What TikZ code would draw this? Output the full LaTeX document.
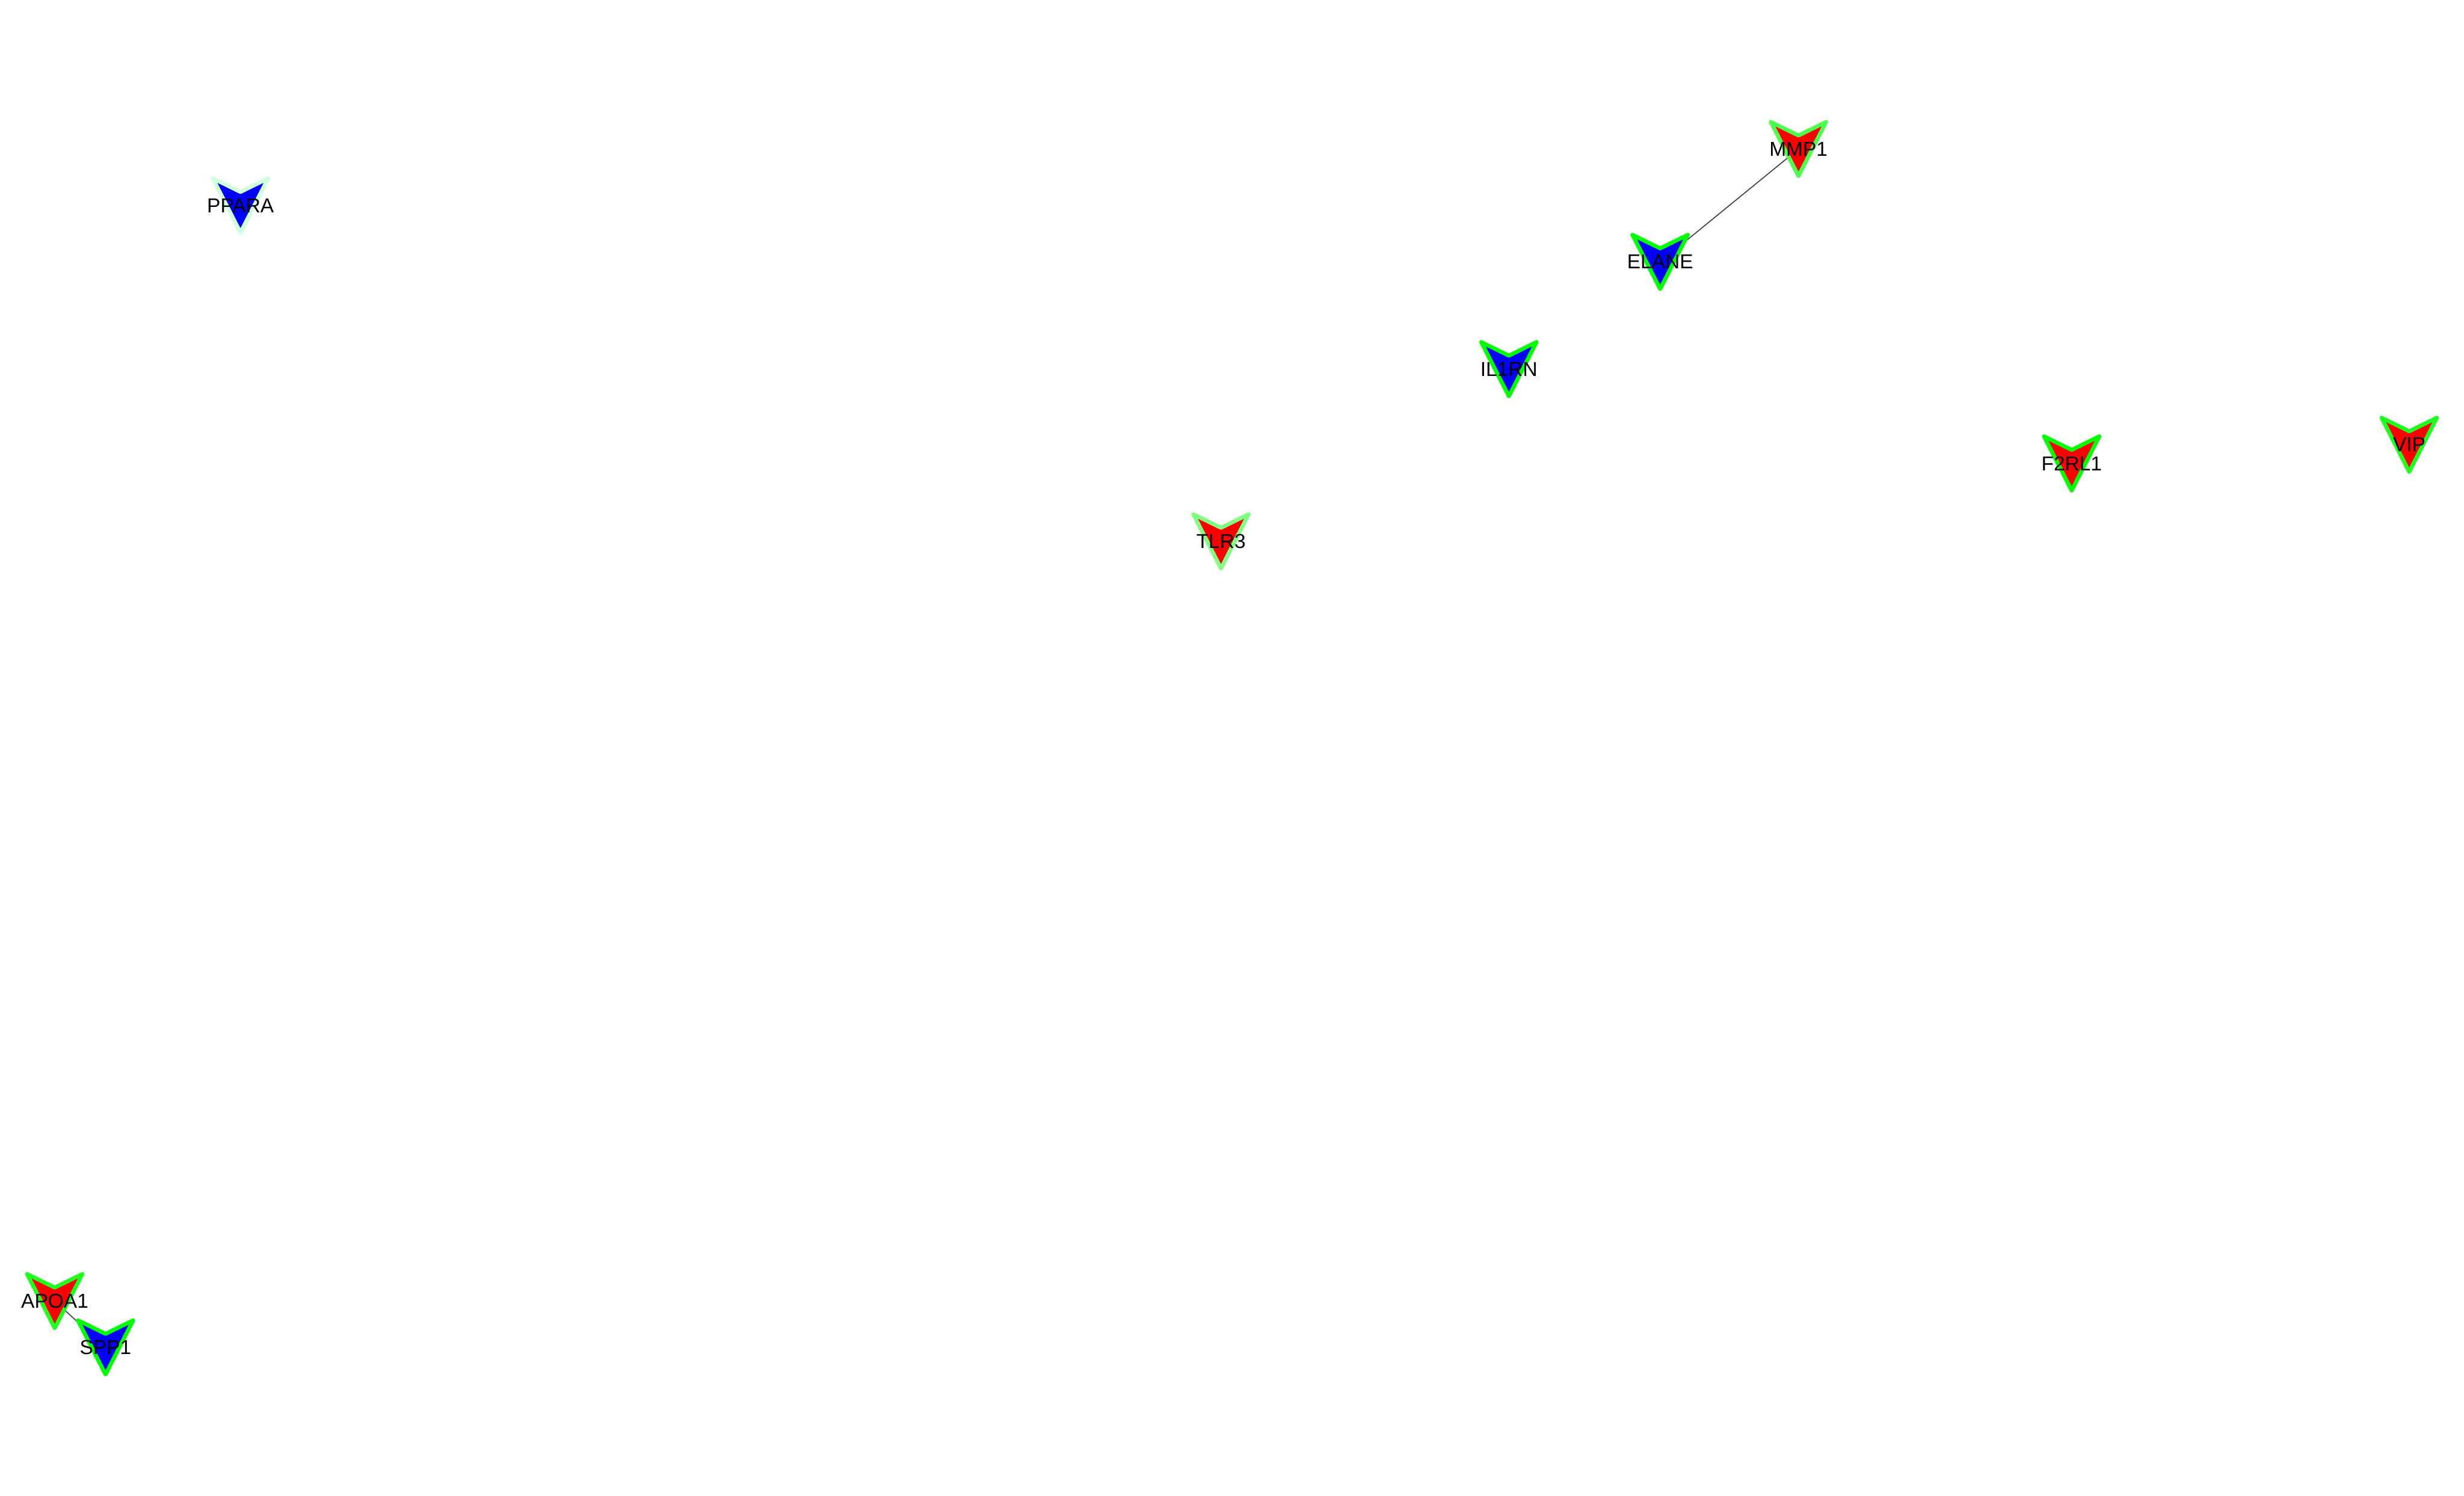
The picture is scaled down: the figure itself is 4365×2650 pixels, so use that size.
\documentclass[tikz,border=0pt]{standalone}
\usepackage{fontspec}
\setmainfont{Liberation Sans}
\usepackage{tikz}
\usetikzlibrary{backgrounds}
\definecolor{upred}{RGB}{255,0,0}
\definecolor{downblue}{RGB}{0,0,255}
\definecolor{rimfull}{RGB}{0,255,0}
\definecolor{rimsoft}{RGB}{30,255,30}
\definecolor{rimmid}{RGB}{77,255,77}
\definecolor{rimlight}{RGB}{128,255,128}
\definecolor{rimpale}{RGB}{208,255,222}
\definecolor{edgegray}{RGB}{64,64,64}
% chevron marker, then the gene name on top
\newcommand{\gene}[5]{%
  \filldraw[chev,fill=#3,draw=#4] (#2) ++(-49,-48) -- ++(49,24) -- ++(49,-24) -- ++(-49,96) -- cycle;
  \node[lbl] (#1) at (#2) {#5};}

\begin{document}
\begin{tikzpicture}[x=0.01cm,y=-0.01cm,
    chev/.style={line width=0.07cm,line join=round},
    lbl/.style={inner sep=0pt,font=\fontsize{10.15}{12}\selectfont},
    link/.style={draw=edgegray,line width=0.5pt}]
  \useasboundingbox (0,0) rectangle (4365,2650);
  \gene{ppara}{426,364}{downblue}{rimpale}{PPARA}
  \gene{mmp1}{3186,264}{upred}{rimmid}{MMP1}
  \gene{elane}{2941,464}{downblue}{rimfull}{ELANE}
  \gene{il1rn}{2673,654}{downblue}{rimfull}{IL1RN}
  \gene{f2rl1}{3670,821}{upred}{rimfull}{F2RL1}
  \gene{vip}{4268,788}{upred}{rimsoft}{VIP}
  \gene{tlr3}{2163,959}{upred}{rimlight}{TLR3}
  \gene{apoa1}{97,2305}{upred}{rimsoft}{APOA1}
  \gene{spp1}{187,2387}{downblue}{rimfull}{SPP1}
  \begin{scope}[on background layer]
    \draw[link] (mmp1.center) -- (elane.center);
    \draw[link] (apoa1.center) -- (spp1.center);
  \end{scope}
\end{tikzpicture}
\end{document}
